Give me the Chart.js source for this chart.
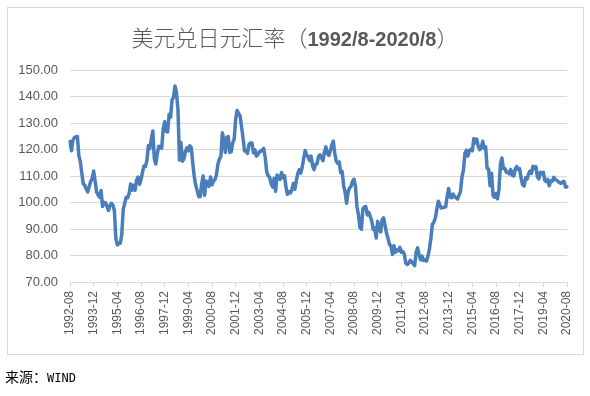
<!DOCTYPE html>
<html>
<head>
<meta charset="utf-8">
<script src="https://cdn.jsdelivr.net/npm/chart.js@4/dist/chart.umd.min.js"></script>
<style>
  html, body { margin: 0; padding: 0; background: #fff; }
  body { width: 590px; height: 396px; position: relative; overflow: hidden; }
  #frame { position: absolute; left: 7px; top: 7px; width: 575px; height: 346px; border: 1.5px solid #d9d9d9; }
  #title { position: absolute; left: 0; width: 590px; top: 20px; text-align: center; color: #595959; white-space: nowrap; }
  #title .zh { font-family: "Noto Sans CJK SC", sans-serif; font-weight: 300; font-size: 22px; }
  #title .num { font-family: "Liberation Sans", Arial, sans-serif; font-weight: bold; font-size: 20px; }
  #source { position: absolute; left: 5px; top: 366px; font-size: 14px; color: #000; }
  #source .zh { font-family: "Noto Sans CJK SC", sans-serif; }
  #source .en { font-family: "DejaVu Sans Mono", monospace; font-size: 12px; }
  #chartBox { position: absolute; left: 0; top: 0; width: 590px; height: 396px; }
</style>
</head>
<body>
<div id="frame"></div>
<div id="chartBox"><canvas id="fxChart" width="590" height="396"></canvas></div>
<div id="title"><span class="zh">美元兑日元汇率（</span><span class="num">1992/8-2020/8</span><span class="zh">）</span></div>
<div id="source"><span class="zh">来源：</span><span class="en">WIND</span></div>
<script>
// 月度数据，1992-08 起
var startYear = 1992;
var startMonth = 8;

// 美元兑日元，按年分行
var usdjpy = [
  123.0, 119.5, 123.5, 124.5, 124.8,                                               // 1992 8-12
  124.9, 117.6, 115.4, 111.0, 107.0, 106.5, 105.0, 104.0, 106.0, 108.0, 109.0, 111.9, // 1993
  108.0, 104.0, 102.8, 102.0, 104.5, 98.5, 100.0, 99.9, 98.6, 97.0, 98.9, 99.7,    // 1994
  99.0, 97.0, 86.5, 84.0, 84.5, 84.6, 88.0, 97.5, 99.7, 102.0, 101.8, 103.4,       // 1995
  107.0, 104.6, 106.5, 104.6, 108.4, 109.6, 106.9, 108.6, 111.4, 113.8, 113.6, 115.9, // 1996
  121.5, 120.4, 124.0, 127.0, 116.6, 114.5, 118.4, 121.2, 120.8, 120.5, 127.7, 130.5, // 1997
  126.9, 126.6, 133.3, 132.2, 138.8, 139.6, 144.0, 141.5, 135.0, 116.0, 122.6, 115.6, // 1998
  116.4, 119.2, 120.6, 119.5, 121.4, 120.7, 114.8, 109.8, 106.5, 104.5, 102.2, 102.2, // 1999
  107.0, 110.0, 102.7, 108.1, 107.6, 106.1, 109.6, 106.7, 108.1, 108.7, 110.4, 114.4, // 2000
  116.4, 117.3, 126.3, 123.6, 118.9, 124.6, 124.9, 118.9, 119.2, 122.5, 123.9, 131.5, // 2001
  134.7, 133.6, 132.6, 128.5, 124.2, 119.4, 119.8, 118.5, 121.9, 122.5, 122.5, 118.8, // 2002
  119.9, 117.5, 118.1, 119.1, 119.3, 119.8, 120.4, 116.9, 111.4, 110.1, 109.5, 107.1, // 2003
  105.8, 109.1, 104.2, 110.4, 109.6, 108.7, 111.3, 109.4, 110.1, 105.8, 103.1, 104.1, // 2004
  103.6, 104.8, 107.2, 105.0, 108.2, 110.9, 112.4, 111.1, 113.3, 116.6, 119.6, 117.9, // 2005
  117.2, 115.8, 117.5, 113.8, 112.4, 114.4, 114.6, 117.4, 118.0, 116.8, 115.8, 119.0, // 2006
  121.0, 118.5, 117.8, 119.5, 121.7, 123.2, 118.6, 115.6, 114.8, 115.3, 111.2, 111.7, // 2007
  106.4, 103.8, 99.7, 104.0, 105.5, 106.1, 108.0, 108.8, 106.0, 98.4, 95.4, 90.6,    // 2008
  89.9, 97.7, 98.3, 98.5, 95.3, 96.3, 94.7, 93.0, 89.8, 90.4, 86.6, 92.9,           // 2009
  90.5, 88.9, 93.4, 94.2, 91.3, 88.4, 86.5, 84.2, 83.5, 80.4, 83.7, 81.2,           // 2010
  82.1, 81.8, 83.1, 81.2, 81.5, 80.6, 77.1, 76.6, 77.1, 78.2, 77.6, 76.9,           // 2011
  76.2, 81.2, 82.9, 80.2, 78.4, 79.8, 78.1, 78.4, 77.9, 79.8, 82.5, 86.6,           // 2012
  91.7, 92.6, 94.2, 97.4, 100.5, 99.1, 97.9, 98.1, 98.2, 98.4, 102.4, 105.3,        // 2013
  102.0, 101.8, 103.2, 102.2, 101.8, 101.3, 102.8, 104.1, 109.7, 112.3, 118.6, 119.7, // 2014
  117.5, 119.6, 120.1, 119.5, 124.1, 122.5, 123.9, 121.2, 119.9, 120.7, 123.1, 120.4, // 2015
  121.0, 112.9, 112.6, 106.3, 111.0, 102.6, 102.0, 103.4, 101.4, 104.9, 114.5, 116.8, // 2016
  112.8, 112.8, 111.4, 111.5, 110.8, 112.4, 110.3, 110.0, 112.5, 113.6, 112.5, 112.7, // 2017
  109.1, 106.7, 106.2, 109.3, 108.8, 110.8, 111.9, 111.0, 113.7, 112.9, 113.5, 109.7, // 2018
  108.9, 111.4, 110.9, 111.4, 108.3, 107.9, 108.7, 106.3, 108.1, 108.0, 109.5, 108.7, // 2019
  108.4, 107.9, 107.5, 107.2, 107.8, 107.9, 105.8, 105.9                            // 2020 1-8
];

// 横轴标注（每16个月一个）
var xTickLabels = ['1992-08', '1993-12', '1995-04', '1996-08', '1997-12', '1999-04',
  '2000-08', '2001-12', '2003-04', '2004-08', '2005-12', '2007-04', '2008-08', '2009-12',
  '2011-04', '2012-08', '2013-12', '2015-04', '2016-08', '2017-12', '2019-04', '2020-08'];
var tickStep = 16;

var yTicks = [70, 80, 90, 100, 110, 120, 130, 140, 150];

// 月份标签
var months = [];
for (var i = 0; i < usdjpy.length; i++) {
  var m = startMonth - 1 + i;
  var y = startYear + Math.floor(m / 12);
  var mm = (m % 12) + 1;
  months.push(y + '-' + (mm < 10 ? '0' + mm : mm));
}

var axisGrey = '#595959';
var gridGrey = '#d9d9d9';

new Chart(document.getElementById('fxChart').getContext('2d'), {
  type: 'line',
  data: {
    labels: months,
    datasets: [{
      label: '美元兑日元',
      data: usdjpy,
      borderColor: '#4a7ebb',
      borderWidth: 3.5,
      borderJoinStyle: 'round',
      borderCapStyle: 'round',
      pointRadius: 0,
      tension: 0,
      fill: false
    }]
  },
  options: {
    responsive: false,
    animation: false,
    layout: { padding: { top: 70, right: 23, left: 0, bottom: 0 } },
    plugins: {
      legend: { display: false },
      tooltip: { enabled: false },
      title: { display: false }
    },
    scales: {
      x: {
        type: 'category',
        offset: false,
        afterFit: function (scale) { scale.height = 114; },
        border: { display: true, color: gridGrey, width: 1 },
        grid: { drawOnChartArea: false, drawTicks: true, tickLength: 5, color: gridGrey },
        ticks: {
          autoSkip: false,
          maxRotation: 90,
          minRotation: 90,
          padding: 4,
          color: axisGrey,
          font: { family: 'Liberation Sans, Arial, sans-serif', size: 12 },
          callback: function (v, idx) {
            if (idx % tickStep !== 0) return null;
            return xTickLabels[idx / tickStep];
          }
        }
      },
      y: {
        min: yTicks[0],
        max: yTicks[yTicks.length - 1],
        afterFit: function (scale) { scale.width = 70; },
        afterBuildTicks: function (scale) {
          scale.ticks = yTicks.map(function (v) { return { value: v }; });
        },
        border: { display: false },
        grid: { color: gridGrey, lineWidth: 1, drawTicks: false },
        ticks: {
          padding: 12,
          color: axisGrey,
          font: { family: 'Liberation Sans, Arial, sans-serif', size: 13 },
          callback: function (v) { return v.toFixed(2); }
        }
      }
    }
  }
});
</script>
</body>
</html>
